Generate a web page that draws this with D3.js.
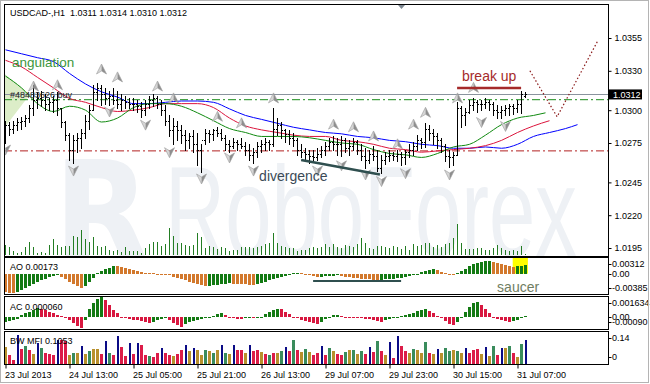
<!DOCTYPE html>
<html>
<head>
<meta charset="utf-8">
<script src="https://cdn.jsdelivr.net/npm/d3@7"></script>
<style>
  body { margin: 0; background: #fff; }
  svg { display: block; font-family: "Liberation Sans", Arial, sans-serif; }
</style>
</head>
<body>
<div id="chart"></div>
<script>
// USDCAD H1, 23 Jul 21:00 .. 31 Jul 09:00 (131 bars)
const open = [1.0290,1.0289,1.0286,1.0289,1.0291,1.0292,1.0294,1.0302,1.0308,1.0309,
  1.0308,1.0305,1.0306,1.0308,1.0302,1.0291,1.0281,1.0270,1.0277,1.0279,
  1.0283,1.0292,1.0300,1.0314,1.0317,1.0312,1.0309,1.0311,1.0308,1.0305,
  1.0308,1.0306,1.0305,1.0305,1.0303,1.0300,1.0305,1.0308,1.0309,1.0305,
  1.0300,1.0292,1.0285,1.0288,1.0285,1.0281,1.0277,1.0280,1.0274,1.0270,
  1.0277,1.0283,1.0282,1.0285,1.0283,1.0279,1.0274,1.0273,1.0276,1.0274,
  1.0273,1.0270,1.0266,1.0268,1.0273,1.0274,1.0276,1.0274,1.0286,1.0289,
  1.0285,1.0282,1.0279,1.0277,1.0270,1.0268,1.0267,1.0265,1.0264,1.0267,
  1.0270,1.0273,1.0276,1.0274,1.0274,1.0277,1.0271,1.0273,1.0276,1.0270,
  1.0265,1.0262,1.0267,1.0265,1.0256,1.0262,1.0265,1.0266,1.0265,1.0267,
  1.0264,1.0268,1.0270,1.0273,1.0277,1.0276,1.0286,1.0283,1.0280,1.0277,
  1.0273,1.0265,1.0264,1.0266,1.0302,1.0296,1.0299,1.0304,1.0306,1.0305,
  1.0305,1.0306,1.0305,1.0300,1.0299,1.0300,1.0302,1.0303,1.0302,1.0305,1.0311];
const high = [1.0292,1.0291,1.0292,1.0294,1.0295,1.0296,1.0304,1.0319,1.0314,1.0315,
  1.0312,1.0309,1.0311,1.0314,1.0302,1.0292,1.0283,1.0281,1.0283,1.0286,
  1.0296,1.0304,1.0319,1.0321,1.0319,1.0317,1.0315,1.0317,1.0315,1.0312,
  1.0311,1.0309,1.0309,1.0308,1.0306,1.0308,1.0311,1.0312,1.0311,1.0308,
  1.0304,1.0296,1.0294,1.0292,1.0289,1.0285,1.0283,1.0285,1.0283,1.0274,
  1.0286,1.0285,1.0286,1.0287,1.0286,1.0281,1.0277,1.0279,1.0277,1.0279,
  1.0276,1.0274,1.0271,1.0276,1.0277,1.0279,1.0277,1.0302,1.0294,1.0291,
  1.0286,1.0285,1.0283,1.0279,1.0274,1.0271,1.0270,1.0270,1.0271,1.0273,
  1.0276,1.0279,1.0280,1.0279,1.0280,1.0279,1.0277,1.0279,1.0277,1.0274,
  1.0271,1.0270,1.0273,1.0270,1.0266,1.0268,1.0270,1.0268,1.0270,1.0268,
  1.0270,1.0274,1.0276,1.0281,1.0279,1.0290,1.0289,1.0286,1.0283,1.0279,
  1.0274,1.0270,1.0268,1.0306,1.0303,1.0302,1.0308,1.0309,1.0308,1.0308,
  1.0309,1.0308,1.0306,1.0304,1.0303,1.0304,1.0305,1.0305,1.0308,1.0315,1.0314];
const low = [1.0275,1.0281,1.0283,1.0285,1.0286,1.0288,1.0291,1.0296,1.0302,1.0303,
  1.0300,1.0300,1.0299,1.0296,1.0287,1.0277,1.0262,1.0260,1.0268,1.0271,
  1.0279,1.0286,1.0300,1.0308,1.0304,1.0305,1.0304,1.0305,1.0302,1.0300,
  1.0302,1.0302,1.0300,1.0299,1.0295,1.0296,1.0302,1.0303,1.0302,1.0296,
  1.0289,1.0280,1.0274,1.0277,1.0275,1.0270,1.0271,1.0268,1.0258,1.0253,
  1.0274,1.0276,1.0277,1.0280,1.0277,1.0270,1.0268,1.0271,1.0270,1.0271,
  1.0266,1.0262,1.0260,1.0264,1.0268,1.0270,1.0270,1.0273,1.0281,1.0279,
  1.0276,1.0274,1.0273,1.0266,1.0264,1.0262,1.0260,1.0261,1.0262,1.0264,
  1.0266,1.0270,1.0270,1.0266,1.0265,1.0268,1.0266,1.0270,1.0267,1.0262,
  1.0256,1.0260,1.0262,1.0254,1.0252,1.0259,1.0261,1.0262,1.0261,1.0258,
  1.0259,1.0264,1.0266,1.0270,1.0271,1.0272,1.0277,1.0274,1.0271,1.0268,
  1.0261,1.0257,1.0258,1.0266,1.0287,1.0289,1.0298,1.0300,1.0299,1.0300,
  1.0302,1.0300,1.0296,1.0294,1.0294,1.0296,1.0296,1.0297,1.0299,1.0298,1.0310];
const close = [1.0289,1.0286,1.0289,1.0291,1.0292,1.0294,1.0302,1.0308,1.0309,1.0308,
  1.0305,1.0306,1.0308,1.0302,1.0291,1.0281,1.0270,1.0277,1.0279,1.0283,
  1.0292,1.0300,1.0314,1.0317,1.0312,1.0309,1.0311,1.0308,1.0305,1.0308,
  1.0306,1.0305,1.0305,1.0303,1.0300,1.0305,1.0308,1.0309,1.0305,1.0300,
  1.0292,1.0285,1.0288,1.0285,1.0281,1.0277,1.0280,1.0274,1.0270,1.0277,
  1.0283,1.0282,1.0285,1.0283,1.0279,1.0274,1.0273,1.0276,1.0274,1.0273,
  1.0270,1.0266,1.0268,1.0273,1.0274,1.0276,1.0274,1.0286,1.0289,1.0285,
  1.0282,1.0279,1.0277,1.0270,1.0268,1.0267,1.0265,1.0264,1.0267,1.0270,
  1.0273,1.0276,1.0274,1.0274,1.0277,1.0271,1.0273,1.0276,1.0270,1.0265,
  1.0262,1.0267,1.0265,1.0256,1.0262,1.0265,1.0266,1.0265,1.0267,1.0264,
  1.0268,1.0270,1.0273,1.0277,1.0276,1.0286,1.0283,1.0280,1.0277,1.0273,
  1.0265,1.0264,1.0266,1.0302,1.0296,1.0299,1.0304,1.0306,1.0305,1.0305,
  1.0306,1.0305,1.0300,1.0299,1.0300,1.0302,1.0303,1.0302,1.0305,1.0312,1.0312];
const volume = [1000,800,400,200,300,800,1300,800,200,300,200,1000,1600,1000,800,900,900,1900,1800,2500,
  1600,1300,1800,900,800,900,500,400,500,300,800,400,400,400,200,700,1100,1300,1300,900,
  1100,2700,1900,1200,1200,1000,900,1000,2200,1800,700,900,800,600,
  800,700,400,500,500,800,800,800,700,800,900,1100,1200,2200,1200,900,800,700,700,400,
  500,500,700,800,700,800,1100,800,1100,800,700,1000,900,800,1100,1700,1200,700,600,900,
  900,800,700,900,800,600,900,500,1100,900,
  1000,1200,1200,800,1000,800,1100,1200,1700,3100,1200,600,600,600,700,700,500,500,700,1000,
  700,500,400,500,400,900,100];

// Alligator lines, read at every 4th bar (they run past the last bar)
const jawIdx = [0,4,8,12,16,20,24,28,32,36,40,44,48,52,56,60,64,68,72,76,80,84,88,92,96,100,104,108,112,116,120,124,128,132,136,140,143];
const jawVal = [1.0346,1.0343,1.0340,1.0337,1.0328,1.0320,1.0314,1.0310,1.0305,1.0305,1.0306,1.0307,1.0307,1.0306,1.0301,1.0296,1.0293,1.0290,1.0287,1.0285,1.0283,1.0282,1.0280,1.0279,1.0277,1.0276,1.0274,1.0273,1.0271,1.0271,1.0272,1.0271,1.0274,1.0280,1.0283,1.0286,1.0289];
const teethIdx = [0,4,8,12,16,20,24,28,32,36,40,44,48,52,56,60,64,68,72,76,80,84,88,92,96,100,104,108,112,116,120,124,128,132,136];
const teethVal = [1.0338,1.0333,1.0325,1.0317,1.0309,1.0306,1.0302,1.0299,1.0300,1.0302,1.0305,1.0305,1.0305,1.0302,1.0294,1.0288,1.0285,1.0283,1.0281,1.0280,1.0280,1.0277,1.0276,1.0274,1.0271,1.0270,1.0268,1.0269,1.0270,1.0271,1.0273,1.0277,1.0283,1.0288,1.0292];
const lipsIdx = [0,4,8,12,16,20,24,28,32,36,40,44,48,52,56,60,64,68,72,76,80,84,88,92,96,100,104,108,112,116,120,124,128,132,135];
const lipsVal = [1.0326,1.0317,1.0305,1.0299,1.0303,1.0300,1.0291,1.0294,1.0302,1.0305,1.0305,1.0303,1.0298,1.0292,1.0286,1.0283,1.0280,1.0280,1.0280,1.0279,1.0277,1.0275,1.0274,1.0270,1.0267,1.0266,1.0264,1.0267,1.0272,1.0274,1.0281,1.0289,1.0294,1.0296,1.0298];

// fractal arrows
const upIdx = [7,13,24,28,38,42,53,59,67,82,87,92,98,102,105,113,117];
const upVal = [1.0318,1.0319,1.0331,1.0325,1.0318,1.0309,1.0295,1.0290,1.0309,1.0289,1.0287,1.0280,1.0274,1.0289,1.0298,1.0309,1.0317];
const downIdx = [0,17,26,35,41,49,56,62,78,84,90,94,100,111,119,125];
const downVal = [1.0270,1.0254,1.0299,1.0289,1.0268,1.0248,1.0264,1.0254,1.0254,1.0258,1.0251,1.0246,1.0252,1.0251,1.0291,1.0288];

const ao = [-0.0036,-0.0038,-0.0039,-0.0037,-0.0033,-0.0029,-0.0024,-0.0020,-0.0017,-0.0013,
  -0.0010,-0.0007,-0.0005,-0.0003,-0.0006,-0.0011,-0.0016,-0.0021,-0.0025,-0.0028,
  -0.0024,-0.0017,-0.0008,0.0001,0.0005,0.0009,0.0012,0.0016,0.0015,0.0014,
  0.0012,0.0010,0.0007,0.0005,0.0003,0.0002,0.0001,0.00005,0.0000,-0.0001,
  -0.0002,-0.0003,-0.0006,-0.0008,-0.0010,-0.0013,-0.0016,-0.0018,-0.0020,-0.0022,
  -0.0025,-0.0024,-0.0023,-0.0022,-0.0021,-0.0020,-0.0019,-0.0020,-0.00205,-0.0021,
  -0.00215,-0.0022,-0.00225,-0.0021,-0.0019,-0.0016,-0.0013,-0.0010,-0.0008,-0.0006,
  -0.0004,-0.0002,0.0001,0.0002,0.0001,-0.0001,-0.0003,-0.0004,-0.0007,-0.0006,
  -0.0005,-0.00045,-0.0004,-0.00035,-0.0005,-0.0006,-0.0007,-0.0008,-0.0009,-0.0010,
  -0.0011,-0.00115,-0.0012,-0.00125,-0.0012,-0.00115,-0.0011,-0.0010,-0.0009,-0.0008,
  -0.0006,-0.0004,-0.0002,0.0000,0.0003,0.0006,0.0008,0.0010,0.0008,0.0004,
  0.0001,-0.0001,-0.0002,0.0002,0.0006,0.0010,0.0015,0.0019,0.0022,0.0024,
  0.0025,0.0026,0.0024,0.0022,0.0019,0.0017,0.0015,0.0014,0.0015,0.0016,0.00173];
const ac = [-0.00038,-0.00030,-0.00025,-0.00016,0.00016,0.00030,0.00044,0.00057,0.00071,0.00065,
  0.00057,0.00044,0.00030,0.00016,0.00008,0.00003,-0.00025,-0.00052,-0.00074,-0.00090,
  -0.00025,0.00063,0.00112,0.00144,0.00163,0.00139,0.00098,0.00057,0.00030,-0.00005,
  -0.00011,-0.00016,-0.00022,-0.00027,-0.00035,-0.00044,-0.00052,-0.00038,-0.00027,-0.00019,
  -0.00011,-0.00025,-0.00046,-0.00065,-0.00079,-0.00057,-0.00041,-0.00030,-0.00025,-0.00019,
  -0.00011,-0.00003,0.00008,0.00025,0.00035,0.00019,0.00003,-0.00011,-0.00016,-0.00019,
  -0.00011,-0.00008,-0.00011,-0.00003,0.00003,0.00022,0.00041,0.00057,0.00068,0.00063,
  0.00044,0.00025,0.00003,-0.00011,-0.00025,-0.00035,-0.00044,-0.00049,-0.00054,-0.00038,
  -0.00019,0.00003,0.00014,0.00016,0.00008,0.00003,-0.00003,-0.00005,-0.00008,-0.00011,
  -0.00014,-0.00016,-0.00022,-0.00030,-0.00038,-0.00027,-0.00016,-0.00008,0.00003,0.00011,
  0.00016,0.00027,0.00035,0.00046,0.00057,0.00065,0.00052,0.00030,0.00008,-0.00011,
  -0.00033,-0.00054,-0.00065,-0.00038,0.00003,0.00044,0.00084,0.00112,0.00120,0.00098,
  0.00063,0.00030,0.00003,-0.00016,-0.00027,-0.00035,-0.00041,-0.00033,-0.00022,-0.00011,0.00006];
const mfi = [0.072,0.036,0.014,0.126,0.063,0.077,0.059,0.041,0.090,0.068,
  0.045,0.041,0.036,0.104,0.104,0.099,0.036,0.045,0.045,0.077,
  0.041,0.054,0.063,0.063,0.041,0.099,0.045,0.036,0.122,0.072,
  0.032,0.090,0.041,0.090,0.081,0.036,0.032,0.027,0.045,0.068,
  0.045,0.036,0.032,0.041,0.059,0.081,0.054,0.068,0.059,0.036,
  0.059,0.054,0.045,0.059,0.081,0.045,0.041,0.081,0.059,0.059,
  0.045,0.081,0.054,0.059,0.050,0.041,0.036,0.045,0.045,0.054,
  0.072,0.054,0.104,0.059,0.050,0.063,0.050,0.036,0.045,0.077,
  0.036,0.068,0.054,0.041,0.036,0.050,0.059,0.059,0.041,0.054,
  0.041,0.072,0.050,0.099,0.054,0.036,0.095,0.023,0.122,0.077,
  0.054,0.045,0.063,0.059,0.045,0.095,0.045,0.041,0.063,0.045,
  0.068,0.054,0.059,0.054,0.045,0.068,0.045,0.059,0.063,0.041,
  0.072,0.032,0.077,0.036,0.068,0.068,0.077,0.045,0.027,0.086,0.1053];
// g = up/up, f = fade, b = fake, s = squat
const mfiType = "fssbsgsfbg" + "sssbssfgfb" + "fgffsbgsbs" + "sbsbssgssb" + "ssfssbfbff" +
  "gfgfbgfbss" + "fbssfsgsfg" + "bsgsfgfssb" + "sgfssgfgfg" + "sbsgsfbsbs" +
  "sfgffgsfbf" + "ggfgfbsssf" + "bfgsbfgsfg" + "b";

const priceTicks = [1.0355, 1.0330, 1.0300, 1.0275, 1.0245, 1.0220, 1.0195];
const timeIdx = [0, 16, 32, 48, 64, 80, 96, 112, 128];
const timeLabels = ["23 Jul 2013", "24 Jul 13:00", "25 Jul 05:00", "25 Jul 21:00", "26 Jul 13:00",
  "29 Jul 07:00", "29 Jul 23:00", "30 Jul 15:00", "31 Jul 07:00"];
const bidPrice = 1.0312, buyPrice = 1.0308, stopPrice = 1.0269;

const W = 650, H = 384;
const svg = d3.select("#chart").append("svg").attr("width", W).attr("height", H);

const x = d3.scaleLinear().domain([0, 130]).range([5.5, 525.5]);
const y = d3.scaleLinear().domain([1.0195, 1.0355]).range([248, 38]);
const yVol = d3.scaleLinear().domain([0, 3500]).range([255, 220]);
const yAO = d3.scaleLinear().domain([-0.00385, 0.00312]).range([293, 258]);
const yAC = d3.scaleLinear().domain([-0.0009, 0.001634]).range([328, 297]);
const yMFI = d3.scaleLinear().domain([0, 0.14]).range([363, 332]);

const L = 4, R = 608;
const panels = [
  {id: "main", top: 4, bot: 256},
  {id: "ao", top: 257, bot: 294},
  {id: "ac", top: 296, bot: 329},
  {id: "mfi", top: 331, bot: 364}
];
const defs = svg.append("defs");
panels.forEach(p => {
  defs.append("clipPath").attr("id", "clip-" + p.id)
    .append("rect").attr("x", L + 1).attr("y", p.top + 1).attr("width", R - L - 1).attr("height", p.bot - p.top - 1);
});

// ---------- main panel ----------
const gMain = svg.append("g").attr("clip-path", "url(#clip-main)");

// watermark
gMain.append("text").attr("x", 54).attr("y", 262)
  .attr("font-family", "DejaVu Sans").attr("font-weight", "bold").attr("font-size", 140)
  .attr("textLength", 96).attr("lengthAdjust", "spacingAndGlyphs")
  .attr("fill", "#eef1f5").text("R");
gMain.append("text").attr("x", 165).attr("y", 256)
  .attr("font-family", "Liberation Sans").attr("font-size", 128)
  .attr("textLength", 412).attr("lengthAdjust", "spacingAndGlyphs")
  .attr("fill", "#eef1f5").text("RoboForex");

// angulation shading
gMain.append("path")
  .attr("d", d3.line()([[x(-0.4), y(1.0328)], [x(6.1), y(1.0312)], [x(-0.4), y(1.0286)]]))
  .attr("fill", "#dcedc8");

// order / level lines
gMain.append("line").attr("x1", L).attr("x2", R).attr("y1", y(stopPrice)).attr("y2", y(stopPrice))
  .attr("stroke", "#b22222").attr("stroke-dasharray", "8,3,2,3");
gMain.append("line").attr("x1", L).attr("x2", R).attr("y1", y(buyPrice)).attr("y2", y(buyPrice))
  .attr("stroke", "#1a8c1a").attr("stroke-dasharray", "8,3,2,3");
gMain.append("line").attr("x1", L).attr("x2", R).attr("y1", Math.round(y(bidPrice)) + 0.5).attr("y2", Math.round(y(bidPrice)) + 0.5)
  .attr("stroke", "#8a949e");

// volumes
gMain.append("g").attr("stroke", "#237d23").attr("shape-rendering", "crispEdges")
  .selectAll("line").data(volume).join("line")
  .attr("x1", (d, i) => x(i)).attr("x2", (d, i) => x(i))
  .attr("y1", yVol(0)).attr("y2", d => yVol(d));

// alligator
const maLine = d3.line().x(d => x(d[0])).y(d => y(d[1])).curve(d3.curveMonotoneX);
[[jawIdx, jawVal, "#0000ff"], [teethIdx, teethVal, "#dc143c"], [lipsIdx, lipsVal, "#108a10"]].forEach(([ix, v, c]) => {
  gMain.append("path").attr("d", maLine(ix.map((d, k) => [d, v[k]])))
    .attr("fill", "none").attr("stroke", c).attr("stroke-width", 1);
});

// OHLC bars
const py = v => Math.round(y(v)) + 0.5;
gMain.append("g").attr("stroke", "#000").attr("stroke-width", 1).attr("shape-rendering", "crispEdges")
  .selectAll("path").data(close).join("path")
  .attr("d", (d, i) => {
    const xi = x(i);
    return `M${xi},${py(high[i]) - 0.5}V${py(low[i]) + 0.5}M${xi - 1.5},${py(open[i])}H${xi}M${xi},${py(close[i])}H${xi + 1.5}`;
  });

// fractals
function fractal(g, cx, cy, up) {
  const s = up ? 1 : -1;
  const a = g.append("g");
  a.append("path").attr("d", `M${cx},${cy - 5.5 * s}L${cx - 5},${cy + 4.5 * s}L${cx},${cy + 1.5 * s}Z`).attr("fill", "#d6d6d6");
  a.append("path").attr("d", `M${cx},${cy - 5.5 * s}L${cx},${cy + 1.5 * s}L${cx + 5},${cy + 4.5 * s}Z`).attr("fill", "#8e8e8e");
  a.append("path").attr("d", `M${cx},${cy - 5.5 * s}L${cx - 5},${cy + 4.5 * s}L${cx},${cy + 1.5 * s}L${cx + 5},${cy + 4.5 * s}Z`)
    .attr("fill", "none").attr("stroke", "#9a9a9a").attr("stroke-width", 0.6);
}
const gFr = gMain.append("g");
upIdx.forEach((d, k) => fractal(gFr, x(d), y(upVal[k]), true));
downIdx.forEach((d, k) => fractal(gFr, x(d), y(downVal[k]), false));

// annotations
gMain.append("text").attr("x", x(1.6)).attr("y", y(1.0333)).attr("font-size", 13.5)
  .attr("fill", "#3c963c").text("angulation");
gMain.append("text").attr("x", x(1.1)).attr("y", y(buyPrice) - 1.5).attr("font-size", 9)
  .attr("fill", "#222").text("#48483626 buy");
gMain.append("line").attr("x1", x(73.9)).attr("y1", y(1.0262)).attr("x2", x(93.6)).attr("y2", y(1.0251))
  .attr("stroke", "#2f4f4f").attr("stroke-width", 2.5);
gMain.append("text").attr("x", x(63.4)).attr("y", y(1.0246)).attr("font-size", 14)
  .attr("fill", "#3b4a56").text("divergence");
gMain.append("line").attr("x1", x(112.9)).attr("x2", x(128.9)).attr("y1", y(1.0317)).attr("y2", y(1.0317))
  .attr("stroke", "#a52a2a").attr("stroke-width", 2.5);
gMain.append("text").attr("x", x(114.1)).attr("y", y(1.0322)).attr("font-size", 14)
  .attr("fill", "#a52a2a").text("break up");
gMain.append("path")
  .attr("d", d3.line()([[x(131.1), y(1.0330)], [x(137.9), y(1.0295)], [x(148.1), y(1.0353)]]))
  .attr("fill", "none").attr("stroke", "#8b1a1a").attr("stroke-width", 1.2).attr("stroke-dasharray", "1.5,2.2");

// header
svg.append("text").attr("x", 10).attr("y", 16).attr("font-size", 9).style("white-space", "pre")
  .text("USDCAD-,H1  1.0311 1.0314 1.0310 1.0312");
// chart-shift marker
svg.append("path").attr("d", "M398,5L405,5L401.5,9Z").attr("fill", "#7d8791");

// ---------- AO ----------
const gAO = svg.append("g").attr("clip-path", "url(#clip-ao)");
gAO.append("rect").attr("x", x(126.8)).attr("width", x(130.6) - x(126.8))
  .attr("y", 258).attr("height", yAO(0) - 258).attr("fill", "#ffff00");
gAO.append("g").attr("shape-rendering", "crispEdges").selectAll("rect").data(ao).join("rect")
  .attr("x", (d, i) => x(i) - 1.5).attr("width", 3)
  .attr("y", d => Math.min(yAO(d), yAO(0))).attr("height", d => Math.max(1, Math.abs(yAO(d) - yAO(0))))
  .attr("fill", (d, i) => (i > 0 && d > ao[i - 1]) ? "#137a13" : "#d2782c");
gAO.append("line").attr("x1", x(76.9)).attr("x2", x(98.9)).attr("y1", yAO(-0.00146)).attr("y2", yAO(-0.00146))
  .attr("stroke", "#2f4f4f").attr("stroke-width", 2);
gAO.append("text").attr("x", x(122.9)).attr("y", yAO(-0.00365)).attr("font-size", 14)
  .attr("fill", "#6f7d62").text("saucer");
svg.append("text").attr("x", 10).attr("y", 270).attr("font-size", 9).text("AO 0.00173");

// ---------- AC ----------
const gAC = svg.append("g").attr("clip-path", "url(#clip-ac)");
gAC.append("g").attr("shape-rendering", "crispEdges").selectAll("rect").data(ac).join("rect")
  .attr("x", (d, i) => x(i) - 1.5).attr("width", 3)
  .attr("y", d => Math.min(yAC(d), yAC(0))).attr("height", d => Math.max(1, Math.abs(yAC(d) - yAC(0))))
  .attr("fill", (d, i) => (i === 0 || d > ac[i - 1]) ? "#137a13" : "#d8173f");
svg.append("text").attr("x", 10).attr("y", 310).attr("font-size", 9).text("AC 0.000060");

// ---------- BW MFI ----------
const mfiColor = {g: "#3a8c5c", f: "#b8902c", b: "#0b0b86", s: "#dc1c48"};
const gMFI = svg.append("g").attr("clip-path", "url(#clip-mfi)");
gMFI.append("g").attr("shape-rendering", "crispEdges").selectAll("rect").data(mfi).join("rect")
  .attr("x", (d, i) => mfiType[i] === "b" ? x(i) - 0.5 : x(i) - 1.5)
  .attr("width", (d, i) => mfiType[i] === "b" ? 1.5 : 3)
  .attr("y", d => yMFI(d)).attr("height", d => yMFI(0) - yMFI(d) + 1)
  .attr("fill", (d, i) => mfiColor[mfiType[i]]);
svg.append("text").attr("x", 10).attr("y", 344).attr("font-size", 9).text("BW MFI 0.1053");

// ---------- frames ----------
panels.forEach(p => {
  svg.append("rect").attr("x", L + 0.5).attr("y", p.top + 0.5).attr("width", R - L).attr("height", p.bot - p.top)
    .attr("fill", "none").attr("stroke", "#000");
});

// ---------- axes ----------
const styleAxis = g => {
  g.select(".domain").remove();
  g.selectAll("text").attr("font-family", "Liberation Sans, Arial, sans-serif").attr("font-size", 9).attr("fill", "#000");
  g.selectAll("line").attr("stroke", "#000");
};
svg.append("g").attr("transform", `translate(${R + 0.5},0)`)
  .call(d3.axisRight(y).tickValues(priceTicks).tickSize(3).tickPadding(3).tickFormat(d3.format(".4f")))
  .call(styleAxis);

// current price label
const by = y(bidPrice);
svg.append("rect").attr("x", R + 1).attr("y", by - 5).attr("width", 33).attr("height", 10).attr("fill", "#000");
svg.append("text").attr("x", R + 5).attr("y", by + 3.3).attr("font-size", 9).attr("fill", "#fff").text("1.0312");

// sub-panel scale labels
const subLabels = [
  [yAO, 0.00312, "0.00312", 6], [yAO, 0, "0.00", 0], [yAO, -0.00385, "-0.00385", -5],
  [yAC, 0.001634, "0.001634", 6], [yAC, 0, "0.00", 0], [yAC, -0.0009, "-0.00090", -6],
  [yMFI, 0.14, "0.14", 6], [yMFI, 0, "0", -6]
];
subLabels.forEach(([s, v, t, off]) => {
  const yy = s(v) + off;
  svg.append("line").attr("x1", R + 0.5).attr("x2", R + 3.5).attr("y1", Math.round(yy) + 0.5).attr("y2", Math.round(yy) + 0.5).attr("stroke", "#000");
  svg.append("text").attr("x", R + 4).attr("y", yy + 3.2).attr("font-size", 9).text(t);
});

svg.append("g").attr("transform", `translate(0,${364.5})`)
  .call(d3.axisBottom(x).tickValues(timeIdx).tickSize(4).tickPadding(3).tickFormat((d, k) => timeLabels[k]))
  .call(styleAxis)
  .call(g => g.selectAll("text").attr("text-anchor", "start").attr("dx", -1));

// outer frame
svg.append("rect").attr("x", 0.5).attr("y", 0.5).attr("width", W - 2).attr("height", H - 2)
  .attr("fill", "none").attr("stroke", "#b4b4b4");
</script>
</body>
</html>
